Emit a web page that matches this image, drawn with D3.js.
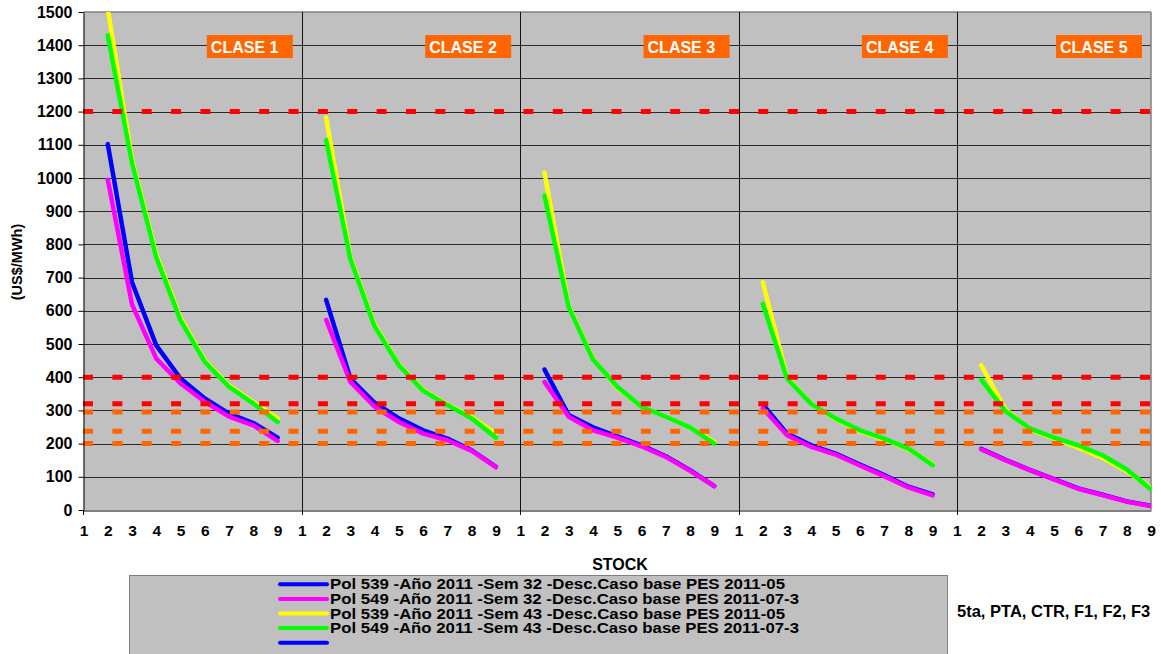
<!DOCTYPE html>
<html>
<head>
<meta charset="utf-8">
<script src="https://cdn.jsdelivr.net/npm/d3@7"></script>
<style>
  body { margin: 0; background: #fff; }
  text { font-family: "Liberation Sans", Arial, sans-serif; font-weight: bold; }
</style>
</head>
<body>
<div id="chart"></div>
<script>
// Data: 5 classes, stock positions 1..9 (values start at position 2)
const classes = ["CLASE 1", "CLASE 2", "CLASE 3", "CLASE 4", "CLASE 5"];
const stockTicks = [1, 2, 3, 4, 5, 6, 7, 8, 9];
const yTicks = d3.range(0, 1501, 100);

const pol539sem32 = [
  [1102, 686, 496, 396, 336, 290, 262, 218],
  [633, 396, 323, 276, 240, 215, 180, 130],
  [423, 286, 249, 222, 195, 162, 120, 72],
  [318, 230, 195, 170, 137, 105, 70, 47],
  [184, 151, 121, 93, 65, 46, 26, 13]
];
const pol549sem32 = [
  [995, 619, 456, 381, 326, 281, 255, 208],
  [573, 386, 311, 265, 230, 210, 178, 129],
  [386, 281, 240, 218, 192, 160, 118, 72],
  [306, 225, 190, 167, 134, 102, 68, 44],
  [183, 150, 120, 92, 64, 45, 25, 12]
];
const pol539sem43 = [
  [1510, 1055, 770, 578, 450, 375, 325, 276],
  [1182, 762, 558, 438, 361, 318, 280, 230],
  [1017, 615, 455, 368, 311, 281, 249, 205],
  [686, 400, 319, 274, 237, 213, 183, 138],
  [436, 303, 243, 216, 188, 157, 117, 66]
];
const pol549sem43 = [
  [1430, 1045, 761, 571, 446, 371, 321, 265],
  [1114, 756, 553, 436, 359, 316, 276, 218],
  [947, 611, 453, 371, 311, 281, 249, 200],
  [621, 396, 319, 276, 240, 215, 185, 135],
  [393, 298, 246, 218, 195, 165, 122, 62]
];

const redLevels = [1200, 400, 320];
const orangeLevels = [295, 237, 200];

const legendLabels = [
  "Pol 539 -Año 2011 -Sem 32 -Desc.Caso base PES 2011-05",
  "Pol 549 -Año 2011 -Sem 32 -Desc.Caso base PES 2011-07-3",
  "Pol 539 -Año 2011 -Sem 43 -Desc.Caso base PES 2011-05",
  "Pol 549 -Año 2011 -Sem 43 -Desc.Caso base PES 2011-07-3",
  ""
];

const series = [
  {values: pol539sem32, color: "#0000ff"},
  {values: pol549sem32, color: "#ff00ff"},
  {values: pol539sem43, color: "#ffff00"},
  {values: pol549sem43, color: "#00ff00"}
];
const legendColors = ["#0000ff", "#ff00ff", "#ffff00", "#00ff00", "#0000ff"];

const width = 1161, height = 654;
const nPts = classes.length * stockTicks.length - 1; // last index 44

const svg = d3.select("#chart").append("svg")
  .attr("width", width)
  .attr("height", height);

const x = d3.scaleLinear().domain([0, nPts]).range([83.5, 1151]);
const y = d3.scaleLinear().domain([0, 1500]).range([510, 12]);

// plot area
svg.append("rect")
  .attr("x", x(0)).attr("y", y(1500))
  .attr("width", x(nPts) - x(0)).attr("height", y(0) - y(1500))
  .attr("fill", "#c0c0c0");

svg.append("defs").append("clipPath").attr("id", "clip")
  .append("rect")
  .attr("x", x(0)).attr("y", y(1500))
  .attr("width", x(nPts) - x(0)).attr("height", y(0) - y(1500));

// horizontal gridlines
svg.append("g").selectAll("line")
  .data(yTicks.filter(d => d > 0 && d < 1500))
  .enter().append("line")
  .attr("x1", x(0)).attr("x2", x(nPts))
  .attr("y1", d => Math.round(y(d)) + 0.5).attr("y2", d => Math.round(y(d)) + 0.5)
  .attr("stroke", "#2a2a2a").attr("stroke-width", 1);

// top / right border
svg.append("line")
  .attr("x1", x(0)).attr("x2", x(nPts)).attr("y1", y(1500)).attr("y2", y(1500))
  .attr("stroke", "#808080").attr("stroke-width", 1.5);
svg.append("line")
  .attr("x1", x(nPts)).attr("x2", x(nPts)).attr("y1", y(1500)).attr("y2", y(0))
  .attr("stroke", "#808080").attr("stroke-width", 1.5);

// panel separators (extend below as ticks)
svg.append("g").selectAll("line")
  .data(d3.range(1, classes.length))
  .enter().append("line")
  .attr("x1", p => Math.round(x(p * 9)) + 0.5).attr("x2", p => Math.round(x(p * 9)) + 0.5)
  .attr("y1", y(1500)).attr("y2", y(0) + 5)
  .attr("stroke", "#111").attr("stroke-width", 1);

// series
const line = d3.line()
  .x(d => x(d.i))
  .y(d => y(d.v));

const plot = svg.append("g").attr("clip-path", "url(#clip)");
series.forEach(s => {
  s.values.forEach((vals, p) => {
    const pts = vals.map((v, k) => ({i: p * 9 + k + 1, v}));
    plot.append("path")
      .datum(pts)
      .attr("d", line)
      .attr("fill", "none")
      .attr("stroke", s.color)
      .attr("stroke-width", 4.5)
      .attr("stroke-linejoin", "round")
      .attr("stroke-linecap", "round");
  });
});

// dashed reference levels
const levels = redLevels.map(v => ({v, c: "#ff0000"}))
  .concat(orangeLevels.map(v => ({v, c: "#ff6600"})));
svg.append("g").selectAll("line")
  .data(levels)
  .enter().append("line")
  .attr("x1", x(0) - 0.5).attr("x2", x(nPts))
  .attr("y1", d => y(d.v)).attr("y2", d => y(d.v))
  .attr("stroke", d => d.c)
  .attr("stroke-width", 5)
  .attr("stroke-dasharray", "10,19.36");

// y axis
const yAxis = svg.append("g")
  .attr("transform", `translate(${Math.round(x(0)) - 0.5},0)`)
  .call(d3.axisLeft(y).tickValues(yTicks).tickFormat(d3.format("d"))
    .tickSize(5).tickSizeOuter(0).tickPadding(6));
yAxis.select(".domain").attr("stroke", "#000");
yAxis.selectAll(".tick line").attr("stroke", "#000");
yAxis.selectAll("text")
  .attr("font-size", "16px").attr("font-weight", "bold")
  .attr("font-family", "'Liberation Sans', Arial, sans-serif")
  .attr("fill", "#000");

// x axis
const xAxis = svg.append("g")
  .attr("transform", `translate(0,${y(0) + 0.5})`)
  .call(d3.axisBottom(x).tickValues(d3.range(0, nPts + 1))
    .tickFormat(i => stockTicks[i % 9]).tickSize(0).tickSizeOuter(0).tickPadding(14));
xAxis.select(".domain").attr("stroke", "#000");
xAxis.selectAll("text")
  .attr("font-size", "15.5px").attr("font-weight", "bold")
  .attr("font-family", "'Liberation Sans', Arial, sans-serif")
  .attr("fill", "#000");
svg.append("line")
  .attr("x1", Math.round(x(0)) - 0.5).attr("x2", Math.round(x(0)) - 0.5)
  .attr("y1", y(0)).attr("y2", y(0) + 5)
  .attr("stroke", "#000");

// axis titles
svg.append("text")
  .attr("transform", `translate(22,262) rotate(-90)`)
  .attr("text-anchor", "middle")
  .attr("font-size", "14.5px")
  .text("(US$/MWh)");

svg.append("text")
  .attr("x", 620).attr("y", 570)
  .attr("text-anchor", "middle")
  .attr("font-size", "16px")
  .text("STOCK");

// class labels
classes.forEach((c, p) => {
  const right = x(Math.min((p + 1) * 9, nPts)) - 9;
  svg.append("rect")
    .attr("x", right - 86).attr("y", 35)
    .attr("width", 86).attr("height", 23)
    .attr("fill", "#ff6600");
  svg.append("text")
    .attr("x", right - 82).attr("y", 52.5)
    .attr("font-size", "16px")
    .attr("fill", "#fff")
    .text(c);
});

// legend
svg.append("rect")
  .attr("x", 129.5).attr("y", 575.5)
  .attr("width", 818).attr("height", 100)
  .attr("fill", "#c0c0c0")
  .attr("stroke", "#808080");

legendLabels.forEach((l, i) => {
  const cy = 584.3 + i * 14.6;
  svg.append("line")
    .attr("x1", 280).attr("x2", 327)
    .attr("y1", cy).attr("y2", cy)
    .attr("stroke", legendColors[i])
    .attr("stroke-width", 4)
    .attr("stroke-linecap", "round");
  if (l) {
    svg.append("text")
      .attr("x", 330).attr("y", cy + 5)
      .attr("font-size", "14.5px")
      .attr("textLength", l.length > 54 ? 469 : 455)
      .attr("lengthAdjust", "spacingAndGlyphs")
      .text(l);
  }
});

svg.append("text")
  .attr("x", 957).attr("y", 616.5)
  .attr("font-size", "16.5px")
  .text("5ta, PTA, CTR, F1, F2, F3");
</script>
</body>
</html>
